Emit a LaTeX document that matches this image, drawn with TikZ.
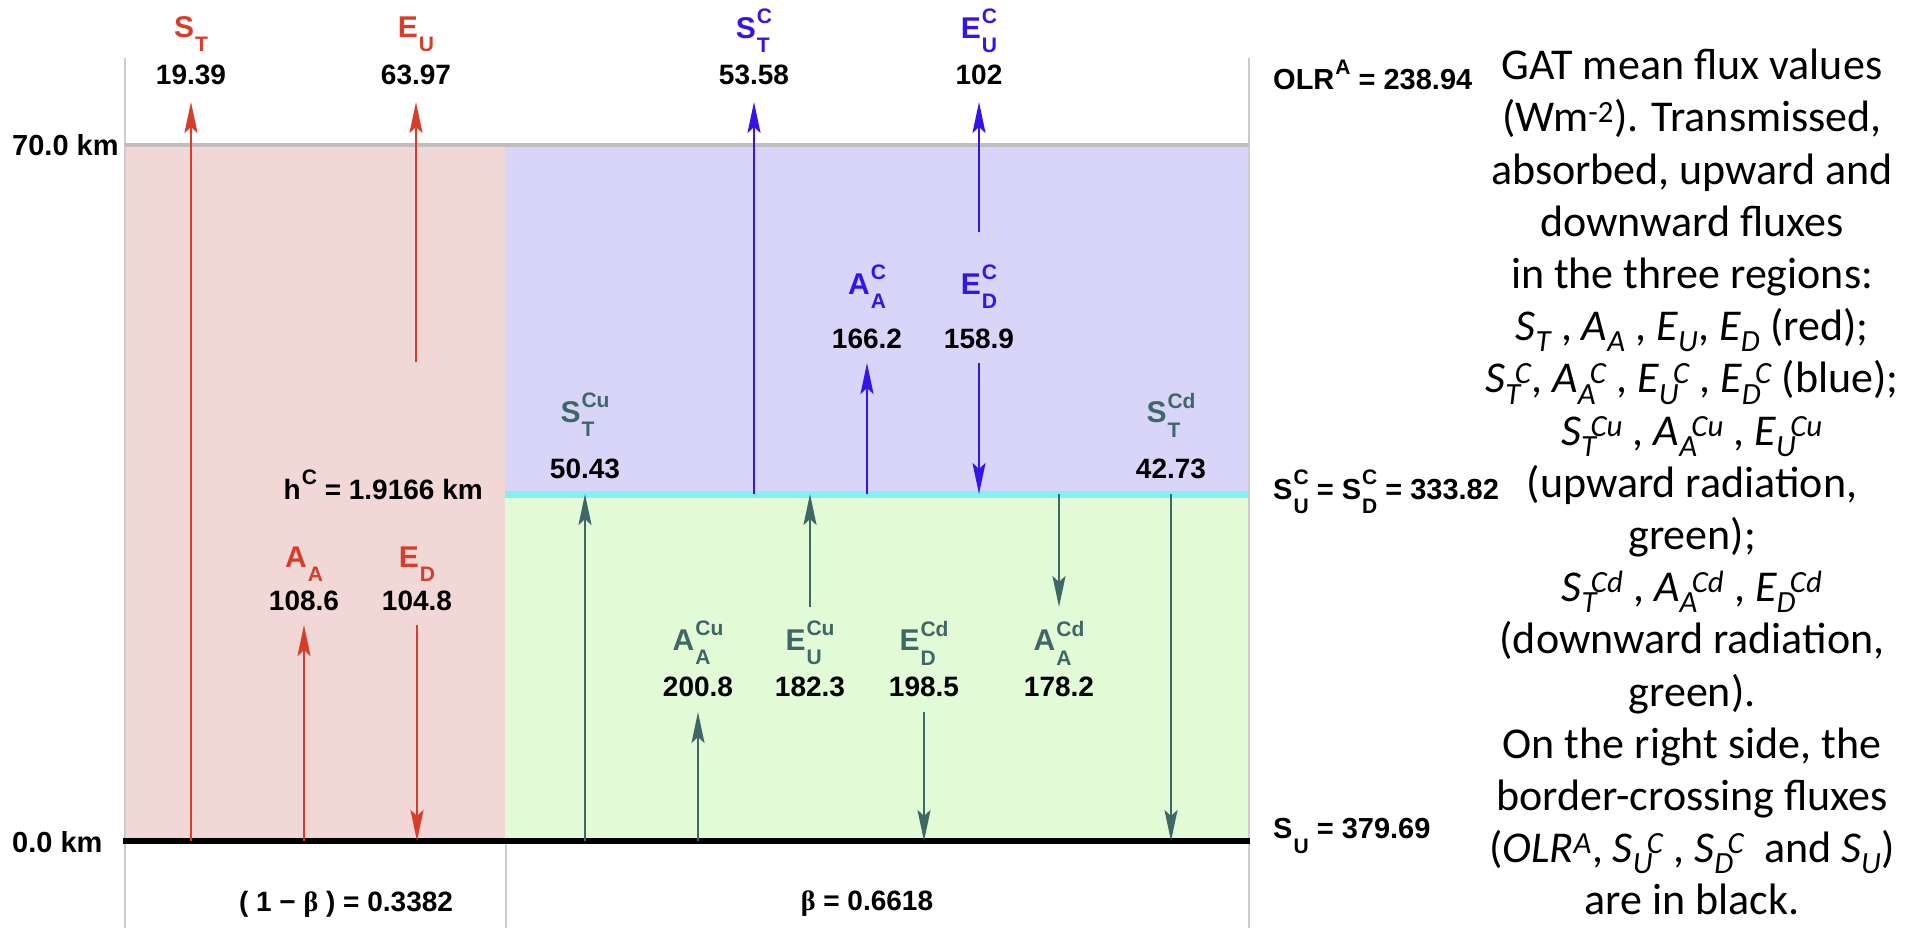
\documentclass[tikz,border=0pt]{standalone}
\usepackage{fontspec}
\setmainfont{Liberation Sans}
\newfontfamily\calfont{Carlito}
\newfontfamily\grkfont{Liberation Serif}
\usetikzlibrary{arrows.meta}
\definecolor{cred}{RGB}{214,62,42}
\definecolor{cblue}{RGB}{52,20,232}
\definecolor{cgreen}{RGB}{62,104,104}
\definecolor{bgpink}{RGB}{242,215,215}
\definecolor{bglav}{RGB}{217,213,248}
\definecolor{bggreen}{RGB}{226,250,213}
\definecolor{ccyan}{RGB}{130,240,245}
\definecolor{cgray}{RGB}{190,190,190}
\definecolor{lgray}{RGB}{205,205,205}
\newcommand\ssz{\fontsize{21}{21}\selectfont}
% main letter #1, subscript #2, superscript #3 (stacked)
\newcommand\fl[3]{#1\kern1pt{\ssz\setbox0\hbox{#2}\setbox2\hbox{#3}%
  \dimen0=\wd0 \ifdim\wd2>\dimen0 \dimen0=\wd2\fi
  \rlap{\raise0.7em\box2}\lower0.68em\hbox to\dimen0{\box0\hss}}}
\newcommand\ii[3]{{\itshape #1\textsubscript{#2}\kern-0.14em\textsuperscript{#3}}}
\newcommand\is[2]{{\itshape #1\textsubscript{#2}}}
\begin{document}
\begin{tikzpicture}[x=1pt,y=-1pt,
  lbl/.style={font=\fontsize{30}{32}\selectfont\bfseries, inner sep=0pt},
  num/.style={font=\fontsize{28}{30}\selectfont\bfseries, text=black, inner sep=0pt},
  side/.style={font=\fontsize{29}{31}\selectfont\bfseries, text=black, inner sep=0pt, anchor=west},
  fx/.style={line width=2.6pt, -{Stealth[length=31pt,width=13pt,inset=6pt]}},
  redf/.style={fx, draw=cred},
  bluef/.style={fx, draw=cblue},
  greenf/.style={fx, draw=cgreen},
  border/.style={draw=lgray, line width=2pt}
]
\useasboundingbox (0,0) rectangle (1905,928);
% regions
\fill[bgpink] (125,145) rectangle (505,841);
\fill[bglav] (505,145) rectangle (1249,494);
\fill[bggreen] (505,494) rectangle (1249,841);
\draw[ccyan, line width=7pt] (505,494) -- (1249,494);
\draw[border] (125,58) -- (125,928);
\draw[border] (1249,58) -- (1249,928);
\draw[border] (506,841) -- (506,928);
\draw[cgray, line width=4pt] (125,145) -- (1249,145);
\draw[black, line width=5.5pt] (123,841) -- (1250,841);

% axis and border labels
\node[side] (k70) at (12,145) {70.0 km};
\node[side] (k0) at (12,842) {0.0 km};
\node[side] (olr) at (1273,82) {\fl{OLR}{}{A} = 238.94};
\node[side] (suc) at (1273,492) {\fl{S}{U}{C} = \fl{S}{D}{C} = 333.82};
\node[side] (su) at (1273,836) {\fl{S}{U}{} = 379.69};
\node[num, anchor=east] (hc) at (483,492) {\fl{h}{}{C} = 1.9166 km};
\node[num] (b1) at (346,904) {( 1 − {\grkfont β} ) = 0.3382};
\node[num] (b2) at (867,904) {{\grkfont β} = 0.6618};

% labels red
\node[lbl, text=cred] (lST) at (191,34) {\fl{S}{T}{}};
\node[num] (nST) at (191,75) {19.39};
\node[lbl, text=cred] (lEU) at (416,34) {\fl{E}{U}{}};
\node[num] (nEU) at (416,75) {63.97};
\node[lbl, text=cred] (lAA) at (304,564) {\fl{A}{A}{}};
\node[num] (nAA) at (304,601) {108.6};
\node[lbl, text=cred] (lED) at (417,564) {\fl{E}{D}{}};
\node[num] (nED) at (417,601) {104.8};
% labels blue
\node[lbl, text=cblue] (lSTC) at (754,31) {\fl{S}{T}{C}};
\node[num] (nSTC) at (754,75) {53.58};
\node[lbl, text=cblue] (lEUC) at (979,31) {\fl{E}{U}{C}};
\node[num] (nEUC) at (979,75) {102};
\node[lbl, text=cblue] (lAAC) at (867,287) {\fl{A}{A}{C}};
\node[num] (nAAC) at (867,339) {166.2};
\node[lbl, text=cblue] (lEDC) at (979,287) {\fl{E}{D}{C}};
\node[num] (nEDC) at (979,339) {158.9};
% labels green
\node[lbl, text=cgreen] (lSTCu) at (585,415) {\fl{S}{T}{Cu}};
\node[num] (nSTCu) at (585,469) {50.43};
\node[lbl, text=cgreen] (lSTCd) at (1171,415) {\fl{S}{T}{Cd}};
\node[num] (nSTCd) at (1171,469) {42.73};
\node[lbl, text=cgreen] (lAACu) at (698,643) {\fl{A}{A}{Cu}};
\node[num] (nAACu) at (698,687) {200.8};
\node[lbl, text=cgreen] (lEUCu) at (810,643) {\fl{E}{U}{Cu}};
\node[num] (nEUCu) at (810,687) {182.3};
\node[lbl, text=cgreen] (lEDCd) at (924,643) {\fl{E}{D}{Cd}};
\node[num] (nEDCd) at (924,687) {198.5};
\node[lbl, text=cgreen] (lAACd) at (1059,643) {\fl{A}{A}{Cd}};
\node[num] (nAACd) at (1059,687) {178.2};

% arrow end points
\coordinate (ST0) at (191,841);  \coordinate (ST1) at (191,102);
\coordinate (EU0) at (416,362);  \coordinate (EU1) at (416,102);
\coordinate (AA0) at (304,841);  \coordinate (AA1) at (304,625);
\coordinate (ED0) at (417,625);  \coordinate (ED1) at (417,841);
\coordinate (STC0) at (754,494); \coordinate (STC1) at (754,102);
\coordinate (EUC0) at (979,232); \coordinate (EUC1) at (979,102);
\coordinate (AAC0) at (867,494); \coordinate (AAC1) at (867,363);
\coordinate (EDC0) at (979,363); \coordinate (EDC1) at (979,494);
\coordinate (STCu0) at (585,841); \coordinate (STCu1) at (585,494);
\coordinate (AACu0) at (698,841); \coordinate (AACu1) at (698,712);
\coordinate (EUCu0) at (810,607); \coordinate (EUCu1) at (810,494);
\coordinate (EDCd0) at (924,712); \coordinate (EDCd1) at (924,841);
\coordinate (AACd0) at (1059,494); \coordinate (AACd1) at (1059,607);
\coordinate (STCd0) at (1171,494); \coordinate (STCd1) at (1171,841);

\draw[redf] (ST0) -- (ST1);
\draw[redf] (EU0) -- (EU1);
\draw[redf] (AA0) -- (AA1);
\draw[redf] (ED0) -- (ED1);
\draw[bluef] (STC0) -- (STC1);
\draw[bluef] (EUC0) -- (EUC1);
\draw[bluef] (AAC0) -- (AAC1);
\draw[bluef] (EDC0) -- (EDC1);
\draw[greenf] (STCu0) -- (STCu1);
\draw[greenf] (AACu0) -- (AACu1);
\draw[greenf] (EUCu0) -- (EUCu1);
\draw[greenf] (EDCd0) -- (EDCd1);
\draw[greenf] (AACd0) -- (AACd1);
\draw[greenf] (STCd0) -- (STCd1);

% caption
\node[font=\calfont\fontsize{44}{52.2}\selectfont, align=center, inner sep=0pt, anchor=north] (cap) at (1692,49) {%
GAT mean flux values\\
(Wm\textsuperscript{-2}). Transmissed,\\
absorbed, upward and\\
downward fluxes\\
in the three regions:\\
\is{S}{T} , \is{A}{A} , \is{E}{U}, \is{E}{D} (red);\\
\ii{S}{T}{C}, \ii{A}{A}{C} , \ii{E}{U}{C} , \ii{E}{D}{C} (blue);\\
\ii{S}{T}{Cu} , \ii{A}{A}{Cu} , \ii{E}{U}{Cu}\\
(upward radiation,\\
green);\\
\ii{S}{T}{Cd} , \ii{A}{A}{Cd} , \ii{E}{D}{Cd}\\
(downward radiation,\\
green).\\
On the right side, the\\
border-crossing fluxes\\
({\itshape OLR\textsuperscript{A}}, \ii{S}{U}{C} , \ii{S}{D}{C}\ \ and \is{S}{U})\\
are in black.};
\end{tikzpicture}
\end{document}
